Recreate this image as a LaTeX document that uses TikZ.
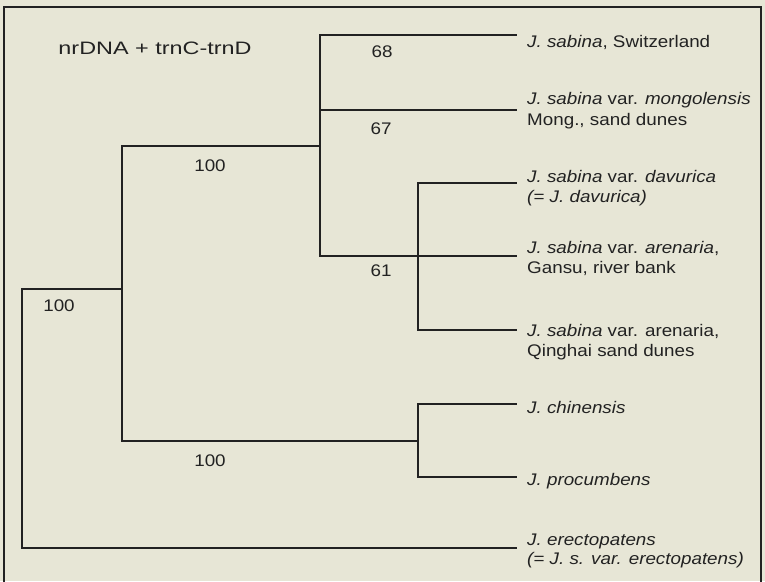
\documentclass[tikz,border=0pt]{standalone}
\usepackage{fontspec}
\setmainfont{Liberation Sans}[FakeStretch=1.12]
\newfontfamily\titlefam{Liberation Sans}[FakeStretch=1.3]
\definecolor{bgc}{RGB}{231,230,214}
\definecolor{ink}{RGB}{34,34,34}
\begin{document}
\begin{tikzpicture}[x=1pt,y=-1pt,
  br/.style={draw=ink,line width=1.8pt,line join=miter,line cap=rect},
  lbl/.style={anchor=base west,inner sep=0pt,text=ink,font=\fontsize{16.8}{20}\selectfont},
  num/.style={anchor=center,inner sep=0pt,text=ink,font=\fontsize{16.8}{20}\selectfont}]
\useasboundingbox (0,0) rectangle (765,581);
\fill[bgc] (0,0) rectangle (765,581);
% frame
\draw[ink,line width=1.8pt] (4,585) -- (4,7) -- (761,7) -- (761,585);
% internal vertices
\coordinate (rT) at (22,289); \coordinate (rB) at (22,548);
\coordinate (aT) at (122,146); \coordinate (aB) at (122,441);
\coordinate (bT) at (320,35);  \coordinate (bM) at (320,110); \coordinate (bB) at (320,256);
\coordinate (cT) at (418,183); \coordinate (cB) at (418,330);
\coordinate (dT) at (418,404); \coordinate (dB) at (418,477);
% tips
\coordinate (t1) at (516,35);  \coordinate (t2) at (516,110);
\coordinate (t3) at (516,183); \coordinate (t4) at (516,256);
\coordinate (t5) at (516,330); \coordinate (t6) at (516,404);
\coordinate (t7) at (516,477); \coordinate (t8) at (516,548);
% branches
\draw[br] (t8) -- (rB) -- (rT) -- (rT -| aT);
\draw[br] (bT |- aT) -- (aT) -- (aB) -- (aB -| dT);
\draw[br] (t1) -- (bT) -- (bB) -- (t4);
\draw[br] (bM) -- (t2);
\draw[br] (t3) -- (cT) -- (cB) -- (t5);
\draw[br] (t6) -- (dT) -- (dB) -- (t7);
% title
\node[num,font=\titlefam\fontsize{18}{20}\selectfont] (title) at (155,48) {nrDNA + trnC-trnD};
% support values
\node[num] (v68) at (382,52) {68};
\node[num] (v67) at (381,129) {67};
\node[num] (v61) at (381,271) {61};
\node[num] (v100a) at (210,166) {100};
\node[num] (v100b) at (59,306) {100};
\node[num] (v100c) at (210,461) {100};
% taxa
\node[lbl] (s1) at (527,47) {\textit{J. sabina}, Switzerland};
\node[lbl] (s2a) at (527,104) {\textit{J. sabina} var. \textit{mongolensis}};
\node[lbl] (s2b) at (527,125) {Mong., sand dunes};
\node[lbl] (s3a) at (527,182) {\textit{J. sabina} var. \textit{davurica}};
\node[lbl] (s3b) at (527,202) {\textit{(= J. davurica)}};
\node[lbl] (s4a) at (527,253) {\textit{J. sabina} var. \textit{arenaria},};
\node[lbl] (s4b) at (527,273) {Gansu, river bank};
\node[lbl] (s5a) at (527,336) {\textit{J. sabina} var. arenaria,};
\node[lbl] (s5b) at (527,356) {Qinghai sand dunes};
\node[lbl] (s6) at (527,413) {\textit{J. chinensis}};
\node[lbl] (s7) at (527,485) {\textit{J. procumbens}};
\node[lbl] (s8a) at (527,545) {\textit{J. erectopatens}};
\node[lbl] (s8b) at (527,564) {\textit{(= J. s. var. erectopatens)}};
\end{tikzpicture}
\end{document}
